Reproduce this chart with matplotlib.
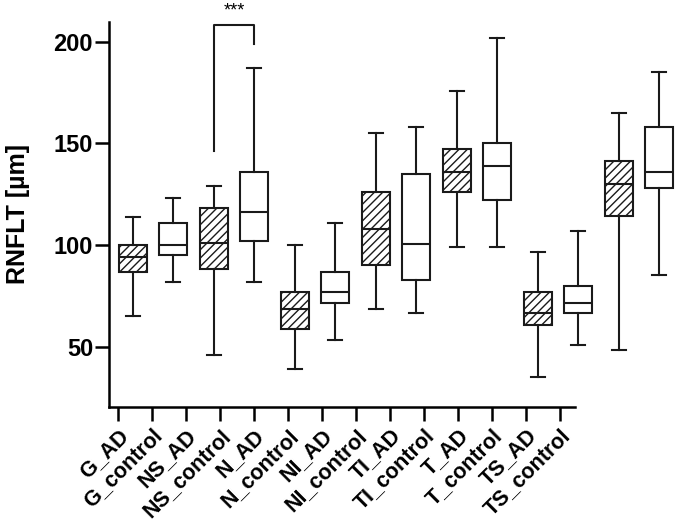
import matplotlib
matplotlib.use("Agg")
import matplotlib.pyplot as plt

# --- data (five-number summaries) ---
groups = ["G_AD", "G_control", "NS_AD", "NS_control", "N_AD", "N_control",
          "NI_AD", "NI_control", "TI_AD", "TI_control", "T_AD", "T_control",
          "TS_AD", "TS_control"]
whisker_low = [65, 82, 46, 82, 39, 53.5, 68.5, 66.5, 99, 99, 35, 51, 48.5, 85]
q1 = [86.5, 95, 88, 102, 58.5, 71.5, 90, 83, 126, 122, 60.5, 66.5, 114.5, 128]
median = [94, 100, 101, 116, 68.5, 77, 108, 100.5, 136, 139, 66.5, 71.5, 130, 136]
q3 = [100, 111, 118, 136, 77, 86.5, 126, 135, 147, 150, 77, 80, 141.5, 158]
whisker_high = [114, 123, 129, 187, 100, 111, 155, 158, 176, 202, 96.5, 107, 165, 185]

# significance bracket between NS_AD and NS_control
sig_pair = (3, 4)
sig_left_y, sig_top_y, sig_right_y = 146, 208, 199
sig_text = "***"

plt.rcParams["font.family"] = ["Liberation Sans", "DejaVu Sans"]
plt.rcParams["font.weight"] = "bold"
plt.rcParams["hatch.linewidth"] = 1.0

fig = plt.figure(figsize=(6.86, 5.28), dpi=100)
ax = fig.add_axes([109 / 686, (528 - 407) / 528, (686 - 109) / 686, 385 / 528])

stats = []
for i in range(len(groups)):
    stats.append({"label": groups[i], "whislo": whisker_low[i], "q1": q1[i],
                  "med": median[i], "q3": q3[i], "whishi": whisker_high[i],
                  "fliers": []})

positions = list(range(1, len(groups) + 1))
bp = ax.bxp(stats, positions=positions, widths=0.69, patch_artist=True,
            showfliers=False,
            boxprops=dict(linewidth=1.5, edgecolor="#1a1a1a"),
            medianprops=dict(linewidth=1.5, color="#1a1a1a"),
            whiskerprops=dict(linewidth=1.5, color="#1a1a1a"),
            capprops=dict(linewidth=1.5, color="#1a1a1a"))
for i, box in enumerate(bp["boxes"]):
    box.set_facecolor("white")
    if groups[i].endswith("_AD"):
        box.set_hatch("////")

# x ticks sit on a tighter spacing than the boxes (as in the original figure)
tick_pos = [0.63 + k * 0.8403 for k in range(len(groups))]
ax.set_xticks(tick_pos)
ax.set_xticklabels(groups, rotation=45, ha="right", rotation_mode="anchor",
                   fontsize=15.5, fontweight="bold")
ax.set_xlim(0.407, 14.667)
ax.set_ylim(20.3, 209.7)
ax.set_yticks([50, 100, 150, 200])
ax.tick_params(axis="y", labelsize=17, length=10, width=1.8, pad=1.5)
ax.tick_params(axis="x", length=10, width=1.8, pad=3)
for lab in ax.get_yticklabels():
    lab.set_fontweight("bold")

ax.spines["top"].set_visible(False)
ax.spines["right"].set_visible(False)
ax.spines["left"].set_linewidth(1.8)
ax.spines["bottom"].set_linewidth(1.8)
ax.spines["bottom"].set_bounds(0.407, 11.92)

ax.set_ylabel("RNFLT [µm]", fontsize=18, fontweight="bold", labelpad=17)

x1, x2 = sig_pair
ax.plot([x1, x1, x2, x2], [sig_left_y, sig_top_y, sig_top_y, sig_right_y],
        color="#1a1a1a", linewidth=1.5, clip_on=False)
ax.text((x1 + x2) / 2, sig_top_y + 3, sig_text, ha="center", va="bottom",
        fontsize=13, fontweight="normal", clip_on=False)

fig.savefig("out.png", dpi=100)
